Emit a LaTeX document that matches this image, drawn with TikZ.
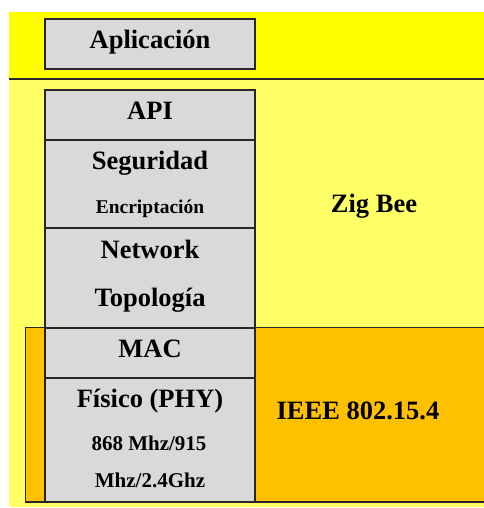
\documentclass[tikz,border=0pt]{standalone}
\usepackage{fontspec}
\setmainfont{Liberation Serif}
\definecolor{appyellow}{HTML}{FFFF00}
\definecolor{zigyellow}{HTML}{FFFF66}
\definecolor{ieeeorange}{HTML}{FFC000}
\definecolor{layergrey}{HTML}{D9D9D9}
\definecolor{edge}{HTML}{262626}
\begin{document}
\begin{tikzpicture}[x=1pt,y=-1pt,
  layer/.style={draw=edge, fill=layergrey, line width=1.2pt, rectangle,
    minimum width=210pt, inner sep=0pt},
  big/.style={font=\bfseries\fontsize{26.5}{28}\selectfont, anchor=base, inner sep=0pt},
  mid/.style={font=\bfseries\fontsize{21}{23}\selectfont, anchor=base, inner sep=0pt},
  tiny/.style={font=\bfseries\fontsize{19.5}{21}\selectfont, anchor=base, inner sep=0pt}]
\useasboundingbox (0,0) rectangle (483,508);

% background bands: application band and ZigBee band
\fill[zigyellow] (9,80) rectangle (486,507);
\fill[appyellow] (9,12) rectangle (486,79);
\draw[edge, line width=1.2pt] (9,79) -- (486,79);

% IEEE 802.15.4 band
\draw[edge, fill=ieeeorange, line width=1.2pt] (25.5,327.5) rectangle (488,502);

% protocol layers
\node[layer, minimum height=50pt]  (app) at (150,44)  {};
\node[layer, minimum height=50pt]  (api) at (150,115) {};
\node[layer, minimum height=88pt]  (seg) at (150,184) {};
\node[layer, minimum height=100pt] (net) at (150,278) {};
\node[layer, minimum height=50pt]  (mac) at (150,353) {};
\node[layer, minimum height=124pt] (phy) at (150,440) {};

% layer labels
\node[big]  (tapp)  at (150,49)  {Aplicación};
\node[big]  (tapi)  at (150,119) {API};
\node[big]  (tseg)  at (150,169) {Seguridad};
\node[tiny] (tenc)  at (150,213) {Encriptación};
\node[big]  (tnet)  at (150,258) {Network};
\node[big]  (ttop)  at (150,306) {Topología};
\node[big]  (tmac)  at (150,357) {MAC};
\node[big]  (tphy)  at (150,407) {Físico (PHY)};
\node[mid]  (tf1)   at (149,450) {868 Mhz/915};
\node[mid]  (tf2)   at (150,487) {Mhz/2.4Ghz};

% band labels
\node[big] (tzig)  at (374,212) {Zig Bee};
\node[big] (tieee) at (358,419) {IEEE 802.15.4};
\end{tikzpicture}
\end{document}
